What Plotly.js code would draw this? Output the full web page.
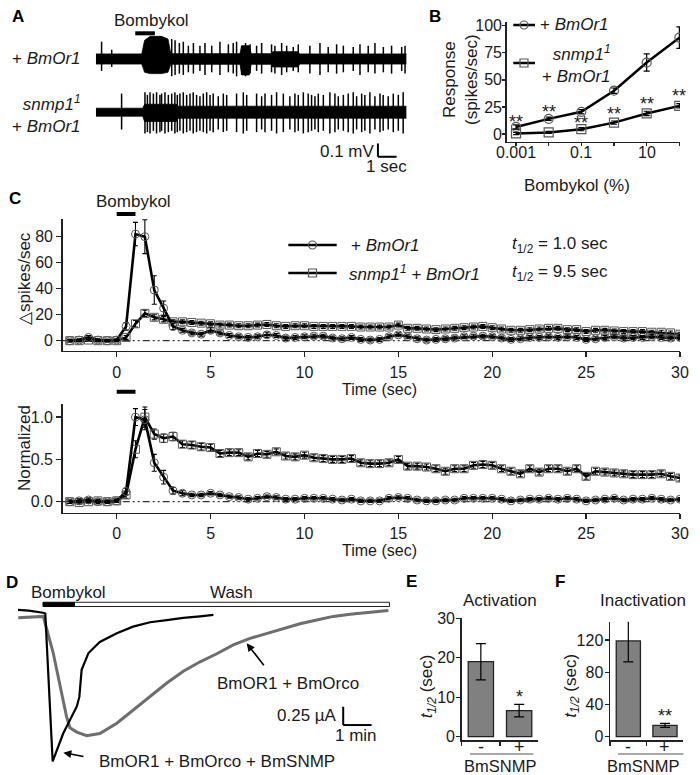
<!DOCTYPE html>
<html><head><meta charset="utf-8">
<script src="https://cdn.plot.ly/plotly-3.0.1.min.js"></script>
<style>html,body{margin:0;padding:0;background:#fff}#chart{width:700px;height:775px}</style>
</head><body><div id="chart"></div>
<script>
// ================= DATA =================
// Panel A: single-sensillum recordings (time in s, amplitude in mV)
const stimA = [2.1, 3.15];
const baseTop = 0, baseBot = -0.4;
const envTop_t  = [0, 2.45, 2.6, 2.9, 3.5, 3.85, 4.0, 7.7, 7.8, 8.2, 8.3, 9.35, 9.45, 10.8, 10.9, 16.6];
const envTop_up = [0.038,0.038,0.14,0.17,0.17,0.15,0.04,0.04,0.1,0.1,0.04,0.04,0.055,0.055,0.038,0.038];
const envTop_dn = [0.038,0.038,0.1,0.11,0.11,0.1,0.04,0.04,0.12,0.12,0.04,0.04,0.06,0.06,0.038,0.038];
const envBot_t  = [0, 2.5, 2.6, 4.3, 4.4, 16.6];
const envBot_up = [0.03, 0.03, 0.06, 0.06, 0.045, 0.045];
const envBot_dn = [0.03, 0.03, 0.07, 0.07, 0.045, 0.045];
const spkTop_t  = [0.30,0.84,4.05,4.23,4.46,4.67,4.94,5.21,5.56,5.83,6.19,6.63,7.08,7.34,7.52,7.79,8.0,8.24,8.59,8.86,9.39,9.57,9.93,10.2,10.55,10.82,11.44,11.98,12.42,12.87,13.23,13.76,14.12,14.56,14.92,15.37,15.81,16.35,16.53];
const spkTop_up = [0.13,0.07,0.15,0.14,0.12,0.13,0.10,0.12,0.10,0.12,0.10,0.13,0.11,0.12,0.13,0.10,0.12,0.11,0.10,0.12,0.11,0.10,0.12,0.10,0.09,0.11,0.10,0.12,0.09,0.11,0.10,0.09,0.11,0.10,0.12,0.09,0.10,0.09,0.10];
const spkTop_dn = [0.09,0.06,0.13,0.12,0.11,0.12,0.10,0.11,0.09,0.12,0.10,0.12,0.10,0.11,0.13,0.12,0.13,0.11,0.09,0.11,0.10,0.11,0.12,0.10,0.09,0.10,0.11,0.12,0.10,0.11,0.10,0.09,0.12,0.10,0.11,0.10,0.11,0.09,0.11];
const spkBot_t  = [1.37,2.62,2.75,2.89,3.07,3.24,3.42,3.51,3.69,3.87,4.05,4.22,4.35,4.49,4.67,4.85,5.03,5.20,5.38,5.56,5.74,5.92,6.10,6.27,6.54,6.81,6.99,7.52,7.88,8.06,8.59,8.86,9.04,9.39,9.66,10.02,10.37,10.64,10.82,11.09,11.35,11.53,11.71,11.89,12.16,12.51,12.78,12.96,13.23,13.49,13.76,13.94,14.21,14.38,14.65,14.92,15.19,15.36,15.63,15.90,16.17,16.43];
const spkBot_up = [0.14,0.15,0.13,0.15,0.14,0.15,0.13,0.14,0.15,0.13,0.14,0.15,0.13,0.14,0.15,0.13,0.14,0.15,0.13,0.12,0.14,0.15,0.13,0.14,0.12,0.14,0.13,0.14,0.15,0.13,0.14,0.12,0.14,0.13,0.15,0.14,0.12,0.14,0.13,0.15,0.14,0.13,0.12,0.14,0.13,0.15,0.14,0.12,0.13,0.14,0.15,0.12,0.14,0.13,0.15,0.12,0.14,0.13,0.12,0.14,0.13,0.15];
const spkBot_dn = [0.13,0.16,0.15,0.16,0.14,0.16,0.15,0.14,0.16,0.15,0.14,0.16,0.15,0.14,0.16,0.15,0.14,0.16,0.15,0.14,0.15,0.16,0.14,0.15,0.13,0.15,0.14,0.15,0.16,0.14,0.15,0.13,0.15,0.14,0.16,0.15,0.13,0.15,0.14,0.16,0.15,0.14,0.13,0.15,0.14,0.16,0.15,0.13,0.14,0.15,0.16,0.13,0.15,0.14,0.16,0.13,0.15,0.14,0.13,0.15,0.14,0.16];
const scaleA = {t: 15.08, v: -0.735, dt: 1, dv: 0.1};

// Panel B: dose response
const concB = [0.001, 0.01, 0.1, 1, 10, 100];
const tickB_text = ['0.001', '', '0.1', '', '10', ''];
const respWT = [6.5, 14, 20.5, 40, 66, 89];
const errWT  = [2, 1.5, 2, 2.5, 8, 10];
const respSN = [0.5, 1.5, 4.5, 10.5, 19, 26];
const errSN  = [1, 1, 1.5, 1.5, 2, 2];
const starsB_y = [14.5, 23.7, 13.5, 22, 31, 39];

// Panel C: time course
const stimC = [0, 1];
const tC = [-2.5,-2,-1.5,-1,-0.5,0,0.5,1,1.5,2,2.5,3,3.5,4,4.5,5,5.5,6,6.5,7,7.5,8,8.5,9,9.5,10,10.5,11,11.5,12,12.5,13,13.5,14,14.5,15,15.5,16,16.5,17,17.5,18,18.5,19,19.5,20,20.5,21,21.5,22,22.5,23,23.5,24,24.5,25,25.5,26,26.5,27,27.5,28,28.5,29,29.5,30];
const cTopWT = [0,0.5,2.5,0.5,0,0.5,11,82,80,39,25,11,8,6,5,8,6,4,3,2.5,3,4.5,4,2,2.5,3,3.5,3.5,2,1.5,2.5,1,0.5,1,3,4.5,3,1.5,0.5,1,1.5,2,3,3.5,3.5,3,2,1,1.5,2.5,2.5,3,2.5,3,2.5,1,1.5,2.5,3,2,2.5,2.5,3,2.5,2,2.5];
const cTopWTerr = [1,1,1.5,1,1,1,3,9,13,11,5.5,2.5,1.5,1.5,1.5,2,1.5,1.5,1.5,1.5,1.5,2,1.5,1.5,1.5,1.5,1.5,1.5,1.5,1.5,1.5,1.5,1.5,1.5,1.5,1.5,1.5,1.5,1.5,1.5,1.5,1.5,1.5,1.5,1.5,1.5,1.5,1.5,1.5,1.5,1.5,1.5,1.5,1.5,1.5,1.5,1.5,1.5,1.5,1.5,1.5,1.5,1.5,1.5,1.5,1.5];
const cTopSN = [0,0,0.5,0,0,0,2.5,13,21,18,16.5,14.5,14.5,14,13.5,13,12,12,11.5,11.5,12,12.5,11.5,11,11.5,11.5,11,11,11,11,11,10.5,10.5,10.5,10.5,12,9.5,9.5,9,8.5,9,9.5,10,10.5,11,10,9,8,8,8.5,9,9.5,9.5,8.5,8.5,7,8,8,7.5,7,7,7,6.5,6.5,6,5];
const cTopSNerr = [1,1,1,1,1,1,1.5,2.5,2.5,2,2,1.5,1.5,1.5,1.5,1.5,1.5,1.5,1.5,1.5,1.5,1.5,1.5,1.5,1.5,1.5,1.5,1.5,1.5,1.5,1.5,1.5,1.5,1.5,1.5,1.5,1.5,1.5,1.5,1.5,1.5,1.5,1.5,1.5,1.5,1.5,1.5,1.5,1.5,1.5,1.5,1.5,1.5,1.5,1.5,1.5,1.5,1.5,1.5,1.5,1.5,1.5,1.5,1.5,1.5,1.5];
const cBotWT = [0,0.01,0.02,0,0,0.01,0.12,1.0,0.97,0.46,0.29,0.13,0.1,0.08,0.08,0.1,0.08,0.06,0.05,0.03,0.04,0.06,0.05,0.03,0.03,0.04,0.04,0.04,0.03,0.02,0.03,0.01,0.01,0.01,0.04,0.05,0.04,0.02,0.01,0.01,0.02,0.02,0.04,0.04,0.04,0.04,0.03,0.01,0.02,0.03,0.03,0.04,0.03,0.04,0.03,0.01,0.02,0.03,0.04,0.02,0.03,0.03,0.04,0.03,0.02,0.03];
const cBotWTerr = [0.02,0.02,0.02,0.02,0.02,0.02,0.04,0.1,0.12,0.1,0.08,0.04,0.03,0.02,0.02,0.02,0.02,0.02,0.02,0.02,0.02,0.02,0.02,0.02,0.02,0.02,0.02,0.02,0.02,0.02,0.02,0.02,0.02,0.02,0.02,0.02,0.02,0.02,0.02,0.02,0.02,0.02,0.02,0.02,0.02,0.02,0.02,0.02,0.02,0.02,0.02,0.02,0.02,0.02,0.02,0.02,0.02,0.02,0.02,0.02,0.02,0.02,0.02,0.02,0.02,0.02];
const cBotSN = [0,-0.01,0,0.01,0,0.01,0.08,0.62,1.0,0.8,0.75,0.77,0.68,0.67,0.65,0.64,0.57,0.58,0.58,0.53,0.57,0.56,0.59,0.54,0.53,0.55,0.52,0.51,0.5,0.5,0.51,0.46,0.45,0.45,0.46,0.5,0.42,0.42,0.41,0.39,0.36,0.39,0.39,0.43,0.44,0.43,0.39,0.36,0.33,0.39,0.35,0.39,0.39,0.36,0.39,0.3,0.36,0.35,0.34,0.33,0.32,0.32,0.32,0.33,0.3,0.28];
const cBotSNerr = [0.02,0.02,0.02,0.02,0.02,0.02,0.04,0.1,0.12,0.06,0.05,0.05,0.04,0.04,0.04,0.04,0.035,0.035,0.035,0.035,0.035,0.035,0.035,0.035,0.035,0.035,0.035,0.035,0.035,0.035,0.035,0.035,0.035,0.035,0.035,0.035,0.035,0.035,0.035,0.035,0.035,0.035,0.035,0.035,0.035,0.035,0.035,0.035,0.035,0.035,0.035,0.035,0.035,0.035,0.035,0.035,0.035,0.035,0.035,0.035,0.035,0.035,0.035,0.035,0.035,0.035];

// Panel D: oocyte currents (time in min, current in uA)
const stimD = {bomb: [0, 1.1], wash: [1.1, 12.2], level: 0.104, half: 0.029};
const dSNMP_t = [-0.88,-0.5,0,0.08,0.34,0.71,1.19,1.28,1.36,1.6,2.0,2.6,3.17,3.77,4.36,4.94,5.53,6.0];
const dSNMP_i = [0.03,0.02,-0.01,-0.02,-2.04,-1.66,-1.29,-1.16,-0.79,-0.56,-0.41,-0.29,-0.2,-0.14,-0.11,-0.08,-0.06,-0.04];
const dOrco_t = [-0.87,-0.4,0.01,0.36,0.6,0.83,0.95,1.19,1.54,2.0,2.6,3.18,3.77,4.36,4.94,5.53,6.12,6.7,7.29,7.88,8.46,9.05,9.64,10.22,10.81,11.4,12.16];
const dOrco_i = [-0.08,-0.07,-0.06,-0.56,-1.02,-1.43,-1.58,-1.64,-1.69,-1.66,-1.52,-1.34,-1.16,-0.97,-0.81,-0.68,-0.57,-0.45,-0.36,-0.29,-0.22,-0.16,-0.11,-0.06,-0.03,-0.01,0.02];
const scaleD = {t: 10.57, v: -1.544, dt: 1, dv: 0.25};

// Panels E, F
const catsSNMP = ['-', '+'];
const actMean = [19, 6.6], actErr = [4.6, 1.6];
const inactMean = [119, 14], inactErr = [26, 2.5];

// ================= LAYOUT HELPERS =================
const F = 'Liberation Sans, Arial, sans-serif';
const TXT = '#1a1a1a';
const W = 700, H = 775;
const px = v => v / W, py = v => 1 - v / H;

function T(text, x, y, o) {
  return Object.assign({text: text, x: px(x), y: py(y), xref: 'paper', yref: 'paper', showarrow: false,
    xanchor: 'center', yanchor: 'middle', font: {size: 17, color: TXT, family: F}}, o || {});
}
const fnt = (s, extra) => Object.assign({size: s, color: TXT, family: F}, extra || {});
const B = (s) => ({size: s, color: '#000', family: F, weight: 'bold'});

const axBase = {showline: true, linecolor: '#222', linewidth: 1.5, ticks: 'outside', ticklen: 5, tickwidth: 1.4,
  tickcolor: '#222', showgrid: false, zeroline: false, tickfont: fnt(16), fixedrange: true};
const hidden = {visible: false, showgrid: false, zeroline: false, fixedrange: true};

const traces = [];
// ---- Panel A
function env(t, up, dn, base) {
  traces.push({x: t, y: dn.map(v => base - v), mode: 'lines', line: {width: 0.8, color: '#000'},
    xaxis: 'x', yaxis: 'y', hoverinfo: 'skip', showlegend: false});
  traces.push({x: t, y: up.map(v => base + v), mode: 'lines', line: {width: 0.8, color: '#000'},
    fill: 'tonexty', fillcolor: '#000', xaxis: 'x', yaxis: 'y', hoverinfo: 'skip', showlegend: false});
}
function spikes(t, up, dn, base) {
  traces.push({x: t, y: t.map(() => base), mode: 'markers', marker: {size: 1, color: 'rgba(0,0,0,0)'},
    error_y: {type: 'data', symmetric: false, array: up, arrayminus: dn, width: 0, thickness: 1.5, color: '#000'},
    xaxis: 'x', yaxis: 'y', hoverinfo: 'skip', showlegend: false});
}
env(envTop_t, envTop_up, envTop_dn, baseTop);
env(envBot_t, envBot_up, envBot_dn, baseBot);
spikes(spkTop_t, spkTop_up, spkTop_dn, baseTop);
spikes(spkBot_t, spkBot_up, spkBot_dn, baseBot);

// ---- Panel B
function doseTrace(y, e, sym) {
  return {x: concB, y: y, xaxis: 'x2', yaxis: 'y2', mode: 'lines+markers', line: {color: '#000', width: 2.5},
    marker: {symbol: sym, size: 9, color: '#555', line: {width: 1.2, color: '#555'}},
    error_y: {type: 'data', array: e, color: '#000', thickness: 1.2, width: 3}, showlegend: false, hoverinfo: 'skip'};
}
traces.push(doseTrace(respSN, errSN, 'square-open'));
traces.push(doseTrace(respWT, errWT, 'circle-open'));

// ---- Panel C
function seriesC(y, err, sym, xa, ya) {
  return {x: tC, y: y, xaxis: xa, yaxis: ya, mode: 'lines+markers', line: {color: '#000', width: 2.6},
    marker: {symbol: sym, size: 8, color: '#555', line: {width: 1, color: '#555'}},
    error_y: {type: 'data', array: err, color: '#000', thickness: 1.1, width: 2.5}, showlegend: false, hoverinfo: 'skip'};
}
traces.push(seriesC(cTopSN, cTopSNerr, 'square-open', 'x3', 'y3'));
traces.push(seriesC(cTopWT, cTopWTerr, 'circle-open', 'x3', 'y3'));
traces.push(seriesC(cBotSN, cBotSNerr, 'square-open', 'x4', 'y4'));
traces.push(seriesC(cBotWT, cBotWTerr, 'circle-open', 'x4', 'y4'));

// ---- Panel D
traces.push({x: dOrco_t, y: dOrco_i, xaxis: 'x5', yaxis: 'y5', mode: 'lines', line: {color: '#6e6e6e', width: 3},
  showlegend: false, hoverinfo: 'skip'});
traces.push({x: dSNMP_t, y: dSNMP_i, xaxis: 'x5', yaxis: 'y5', mode: 'lines', line: {color: '#000', width: 2.2},
  showlegend: false, hoverinfo: 'skip'});

// ---- Panels E, F
function barT(y, e, xa, ya) {
  return {type: 'bar', x: catsSNMP, y: y, xaxis: xa, yaxis: ya, width: 0.66,
    marker: {color: '#808080', line: {color: '#222', width: 1.3}},
    error_y: {type: 'data', array: e, color: '#000', thickness: 1.2, width: 5}, showlegend: false, hoverinfo: 'skip'};
}
traces.push(barT(actMean, actErr, 'x6', 'y6'));
traces.push(barT(inactMean, inactErr, 'x7', 'y7'));

// ================= LAYOUT =================
const layout = {
  width: W, height: H, margin: {l: 0, r: 0, t: 0, b: 0}, paper_bgcolor: '#fff', plot_bgcolor: 'rgba(0,0,0,0)',
  showlegend: false, font: {family: F, color: TXT},
  // A
  xaxis: Object.assign({}, hidden, {domain: [px(90), px(420)], range: [-0.32, 17.33], anchor: 'y'}),
  yaxis: Object.assign({}, hidden, {domain: [py(175), py(20)], range: [-0.872, 0.293], anchor: 'x'}),
  // B
  xaxis2: Object.assign({}, axBase, {domain: [px(506.7), px(680)], type: 'log', range: [-3.285, 2.02], anchor: 'y2',
    tickvals: concB, showticklabels: false, ticklen: 3}),
  yaxis2: Object.assign({}, axBase, {domain: [py(141.7), py(21.7)], range: [-7.1, 103.7], anchor: 'x2',
    tickvals: [0, 25, 50, 75, 100], ticklen: 3, ticklabelstandoff: -3}),
  // C top
  xaxis3: Object.assign({}, axBase, {domain: [px(62.7), px(680)], range: [-2.876, 30], anchor: 'y3',
    tickvals: [0, 5, 10, 15, 20, 25, 30], ticklabelstandoff: 2}),
  yaxis3: Object.assign({}, axBase, {domain: [py(350.7), py(219)], range: [-7.7, 93.6], anchor: 'x3',
    tickvals: [0, 20, 40, 60, 80]}),
  // C bottom
  xaxis4: Object.assign({}, axBase, {domain: [px(62.7), px(680)], range: [-2.876, 30], anchor: 'y4',
    tickvals: [0, 5, 10, 15, 20, 25, 30], ticklabelstandoff: 1}),
  yaxis4: Object.assign({}, axBase, {domain: [py(512.7), py(404)], range: [-0.13, 1.155], anchor: 'x4',
    tickvals: [0, 0.5, 1], tickformat: '.1f'}),
  // D
  xaxis5: Object.assign({}, hidden, {domain: [px(10), px(395)], range: [-1.162, 12.394], anchor: 'y5'}),
  yaxis5: Object.assign({}, hidden, {domain: [py(770), py(578)], range: [-2.158, 0.4645], anchor: 'x5'}),
  // E
  xaxis6: Object.assign({}, axBase, {domain: [px(461.7), px(538.3)], type: 'category', range: [-0.5, 1.5], anchor: 'y6',
    tickson: 'boundaries', ticklen: 4, showticklabels: false}),
  yaxis6: Object.assign({}, axBase, {domain: [py(740), py(618.3)], range: [-0.84, 30], anchor: 'x6',
    tickvals: [0, 10, 20, 30], ticklen: 4, ticklabelstandoff: -2}),
  // F
  xaxis7: Object.assign({}, axBase, {domain: [px(610), px(683.3)], type: 'category', range: [-0.5, 1.5], anchor: 'y7',
    tickson: 'boundaries', ticklen: 4, showticklabels: false}),
  yaxis7: Object.assign({}, axBase, {domain: [py(740), py(621.7)], range: [-4.1, 142.9], anchor: 'x7',
    tickvals: [0, 40, 80, 120], ticklen: 4, ticklabelstandoff: -2}),
  bargap: 0.3
};

// ---- shapes
const shapes = [];
const pline = (x0, y0, x1, y1, col, w) => ({type: 'line', xref: 'paper', yref: 'paper', x0: px(x0), y0: py(y0), x1: px(x1), y1: py(y1), line: {color: col, width: w}});
const circ = (cx, cy, r, col) => ({type: 'circle', xref: 'paper', yref: 'paper', x0: px(cx - r), x1: px(cx + r), y0: py(cy + r), y1: py(cy - r), line: {color: col, width: 1.2}, fillcolor: 'rgba(0,0,0,0)'});
const sq = (cx, cy, r, col) => ({type: 'rect', xref: 'paper', yref: 'paper', x0: px(cx - r), x1: px(cx + r), y0: py(cy + r), y1: py(cy - r), line: {color: col, width: 1.2}, fillcolor: 'rgba(0,0,0,0)'});
// A stimulus bar and scale bar
shapes.push({type: 'rect', xref: 'x', yref: 'paper', x0: stimA[0], x1: stimA[1], y0: py(35.3), y1: py(31.3), fillcolor: '#000', line: {width: 0}});
shapes.push({type: 'line', xref: 'x', yref: 'y', x0: scaleA.t, x1: scaleA.t, y0: scaleA.v, y1: scaleA.v + scaleA.dv, line: {color: '#000', width: 2}});
shapes.push({type: 'line', xref: 'x', yref: 'y', x0: scaleA.t, x1: scaleA.t + scaleA.dt, y0: scaleA.v, y1: scaleA.v, line: {color: '#000', width: 2}});
// B legend
shapes.push(pline(513.3, 25, 535, 25, '#000', 2.5)); shapes.push(circ(524, 25, 4, '#555'));
shapes.push(pline(513.3, 63, 535, 63, '#000', 2.5)); shapes.push(sq(524, 63, 4, '#555'));
// C stimulus bars, zero lines, legend
shapes.push({type: 'rect', xref: 'x3', yref: 'paper', x0: stimC[0], x1: stimC[1], y0: py(216), y1: py(212), fillcolor: '#000', line: {width: 0}});
shapes.push({type: 'rect', xref: 'x4', yref: 'paper', x0: stimC[0], x1: stimC[1], y0: py(393.7), y1: py(389.7), fillcolor: '#000', line: {width: 0}});
shapes.push({type: 'line', xref: 'x3 domain', yref: 'y3', x0: 0, x1: 1, y0: 0, y1: 0, layer: 'below', line: {color: '#000', width: 1, dash: '7px,3px,2px,3px,2px,3px'}});
shapes.push({type: 'line', xref: 'x4 domain', yref: 'y4', x0: 0, x1: 1, y0: 0, y1: 0, layer: 'below', line: {color: '#000', width: 1, dash: '7px,3px,2px,3px,2px,3px'}});
shapes.push(pline(288.3, 245, 336.7, 245, '#000', 2.6)); shapes.push(circ(312.5, 245, 4, '#555'));
shapes.push(pline(288.3, 273, 336.7, 273, '#000', 2.6)); shapes.push(sq(312.5, 273, 4, '#555'));
// D stimulus bars and scale bar
shapes.push({type: 'rect', xref: 'x5', yref: 'y5', x0: stimD.wash[0], x1: stimD.wash[1], y0: stimD.level - stimD.half, y1: stimD.level + stimD.half, fillcolor: '#fff', line: {color: '#222', width: 1}});
shapes.push({type: 'rect', xref: 'x5', yref: 'y5', x0: stimD.bomb[0], x1: stimD.bomb[1], y0: stimD.level - stimD.half, y1: stimD.level + stimD.half, fillcolor: '#000', line: {color: '#000', width: 1}});
shapes.push({type: 'line', xref: 'x5', yref: 'y5', x0: scaleD.t, x1: scaleD.t, y0: scaleD.v, y1: scaleD.v + scaleD.dv, line: {color: '#000', width: 2}});
shapes.push({type: 'line', xref: 'x5', yref: 'y5', x0: scaleD.t, x1: scaleD.t + scaleD.dt, y0: scaleD.v, y1: scaleD.v, line: {color: '#000', width: 2}});
// E/F group underline
shapes.push(pline(470, 754, 533.3, 754, '#555', 1.2));
shapes.push(pline(618, 754, 683.3, 754, '#555', 1.2));
layout.shapes = shapes;

// ---- annotations
const ann = [];
// A
ann.push(T('A', 17.5, 16.7, {font: B(17)}));
ann.push(T('Bombykol', 151.7, 20.7));
ann.push(T('+ <i>BmOr1</i>', 83.3, 58.3, {xanchor: 'right'}));
ann.push(T('<i>snmp1<sup>1</sup></i><br>+ <i>BmOr1</i>', 83.3, 114, {xanchor: 'right', align: 'right'}));
ann.push(T('0.1 mV', 376.7, 151.7, {xanchor: 'right'}));
ann.push(T('1 sec', 386.7, 166.7));
// B
ann.push(T('B', 435, 16.7, {font: B(17)}));
ann.push(T('Response<br>(spikes/sec)', 460, 80, {textangle: -90}));
ann.push(T('Bombykol (%)', 576.7, 185));
ann.push(T('+ <i>BmOr1</i>', 538.3, 25, {xanchor: 'left'}));
ann.push(T('<i>snmp1<sup>1</sup></i><br>+ <i>BmOr1</i>', 613.3, 64, {xanchor: 'right', align: 'right'}));
concB.forEach((c, i) => ann.push({text: '**', x: Math.log10(c), y: starsB_y[i], xref: 'x2', yref: 'y2', showarrow: false,
  xanchor: 'center', yanchor: 'middle', yshift: -4, font: fnt(18)}));
concB.forEach((c, i) => { if (tickB_text[i]) ann.push({text: tickB_text[i], x: Math.log10(c), y: py(152.5), xref: 'x2', yref: 'paper',
  showarrow: false, xanchor: 'center', yanchor: 'middle', font: fnt(16)}); });
// C
ann.push(T('C', 15, 198, {font: B(17)}));
ann.push(T('Bombykol', 133.7, 201.7));
ann.push(T('\u25B3spikes/sec', 24, 279, {textangle: -90}));
ann.push(T('Normalized', 24, 448, {textangle: -90}));
ann.push(T('Time (sec)', 380, 389, {font: fnt(16)}));
ann.push(T('Time (sec)', 380, 550, {font: fnt(16)}));
ann.push(T('+ <i>BmOr1</i>', 349, 245, {xanchor: 'left'}));
ann.push(T('<i>snmp1<sup>1</sup></i> + <i>BmOr1</i>', 347, 273, {xanchor: 'left'}));
ann.push(T('<i>t</i><sub>1/2</sub> = 1.0 sec', 510, 245, {xanchor: 'left'}));
ann.push(T('<i>t</i><sub>1/2</sub> = 9.5 sec', 510, 273, {xanchor: 'left'}));
// D
ann.push(T('D', 12, 582, {font: B(17)}));
ann.push(T('Bombykol', 68, 592));
ann.push(T('Wash', 232, 592));
ann.push(T('BmOR1 + BmOrco', 287.7, 683.3));
ann.push(T('BmOR1 + BmOrco + BmSNMP', 216.7, 761.7));
ann.push({text: '', x: px(246.7), y: py(643.3), xref: 'paper', yref: 'paper', showarrow: true, ax: 18.3, ay: 23.4,
  arrowhead: 2, arrowsize: 1, arrowwidth: 1.6, arrowcolor: '#000'});
ann.push({text: '', x: px(63.3), y: py(752.7), xref: 'paper', yref: 'paper', showarrow: true, ax: 21.7, ay: 4,
  arrowhead: 2, arrowsize: 1, arrowwidth: 1.6, arrowcolor: '#000'});
ann.push(T('0.25 \u00B5A', 339, 715, {xanchor: 'right'}));
ann.push(T('1 min', 356, 735));
// E, F
ann.push(T('E', 411.7, 581.7, {font: B(17)}));
ann.push(T('F', 560, 581.7, {font: B(17)}));
ann.push(T('Activation', 500, 600));
ann.push(T('Inactivation', 643.3, 600));
ann.push(T('<i>t</i><sub><i>1/2</i></sub> (sec)', 428.3, 686, {textangle: -90}));
ann.push(T('<i>t</i><sub><i>1/2</i></sub> (sec)', 571.7, 686, {textangle: -90}));
ann.push({text: '*', x: 1, y: 11, xref: 'x6', yref: 'y6', showarrow: false, xanchor: 'center', yanchor: 'middle', yshift: -4, font: fnt(18)});
ann.push({text: '**', x: 1, y: 31, xref: 'x7', yref: 'y7', showarrow: false, xanchor: 'center', yanchor: 'middle', yshift: -4, font: fnt(18)});
catsSNMP.forEach((c, i) => {
  ann.push({text: c, x: i, y: py(747), xref: 'x6', yref: 'paper', showarrow: false, xanchor: 'center', yanchor: 'middle', font: fnt(18)});
  ann.push({text: c, x: i, y: py(747), xref: 'x7', yref: 'paper', showarrow: false, xanchor: 'center', yanchor: 'middle', font: fnt(18)});
});
ann.push(T('BmSNMP', 500, 765.5, {font: fnt(16.5)}));
ann.push(T('BmSNMP', 643.3, 765.5, {font: fnt(16.5)}));
layout.annotations = ann;

Plotly.newPlot('chart', traces, layout, {staticPlot: true, displayModeBar: false});
</script></body></html>
